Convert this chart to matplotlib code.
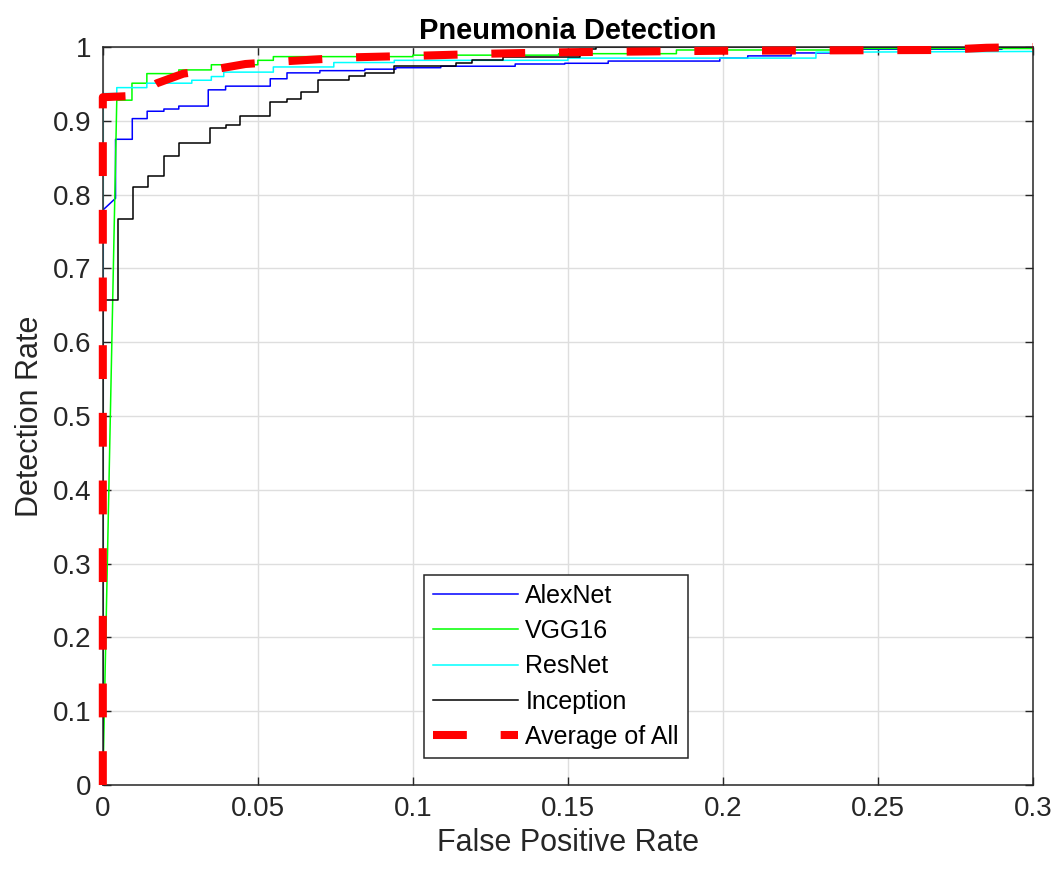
import numpy as np
import matplotlib.pyplot as plt

plt.rcParams['font.family'] = ['Liberation Sans', 'DejaVu Sans']

# ROC points (false positive rate, detection rate)
alex_fpr = [0, 0, 0.0041, 0.0041, 0.0095, 0.0095, 0.0143, 0.0143, 0.0197, 0.0197, 0.0245, 0.0245,
            0.034, 0.034, 0.0396, 0.0396, 0.054, 0.054, 0.0594, 0.0594, 0.07, 0.07, 0.0845, 0.0845,
            0.0945, 0.0945, 0.109, 0.109, 0.133, 0.133, 0.149, 0.149, 0.163, 0.163, 0.199, 0.199,
            0.208, 0.208, 0.222, 0.222, 0.243, 0.243, 0.29, 0.29, 0.3]
alex_tpr = [0, 0.779, 0.795, 0.875, 0.875, 0.903, 0.903, 0.913, 0.913, 0.916, 0.916, 0.920,
            0.920, 0.942, 0.942, 0.947, 0.947, 0.957, 0.957, 0.965, 0.965, 0.968, 0.968, 0.970,
            0.970, 0.972, 0.972, 0.974, 0.974, 0.977, 0.977, 0.978, 0.978, 0.981, 0.981, 0.985,
            0.985, 0.988, 0.988, 0.992, 0.992, 0.997, 0.997, 1.0, 1.0]

vgg_fpr = [0, 0.0045, 0.0094, 0.0094, 0.0142, 0.0142, 0.0245, 0.0245, 0.035, 0.035, 0.05, 0.05,
           0.055, 0.055, 0.1, 0.1, 0.147, 0.147, 0.185, 0.185, 0.24, 0.24, 0.3]
vgg_tpr = [0, 0.928, 0.928, 0.951, 0.951, 0.964, 0.964, 0.969, 0.969, 0.976, 0.976, 0.982,
           0.982, 0.987, 0.987, 0.989, 0.989, 0.991, 0.991, 0.996, 0.996, 0.998, 0.998]

res_fpr = [0, 0, 0.0045, 0.0045, 0.0142, 0.0142, 0.0287, 0.0287, 0.035, 0.035, 0.039, 0.039,
           0.055, 0.055, 0.0745, 0.0745, 0.094, 0.094, 0.15, 0.15, 0.23, 0.23, 0.3]
res_tpr = [0, 0.937, 0.937, 0.945, 0.945, 0.951, 0.951, 0.955, 0.955, 0.960, 0.960, 0.966,
           0.966, 0.973, 0.973, 0.979, 0.979, 0.982, 0.982, 0.985, 0.985, 0.993, 0.994]

inc_fpr = [0, 0, 0.0049, 0.0049, 0.0098, 0.0098, 0.0145, 0.0145, 0.0197, 0.0197, 0.0245, 0.0245,
           0.0347, 0.0347, 0.0396, 0.0396, 0.0444, 0.0444, 0.054, 0.054, 0.0594, 0.0594, 0.064, 0.064,
           0.0694, 0.0694, 0.0794, 0.0794, 0.0845, 0.0845, 0.094, 0.094, 0.114, 0.114, 0.119, 0.119,
           0.129, 0.129, 0.154, 0.154, 0.159, 0.159, 0.3]
inc_tpr = [0, 0.657, 0.657, 0.767, 0.767, 0.811, 0.811, 0.825, 0.825, 0.852, 0.852, 0.870,
           0.870, 0.890, 0.890, 0.894, 0.894, 0.906, 0.906, 0.926, 0.926, 0.929, 0.929, 0.939,
           0.939, 0.956, 0.956, 0.961, 0.961, 0.965, 0.965, 0.974, 0.974, 0.979, 0.979, 0.982,
           0.982, 0.986, 0.986, 0.997, 0.997, 1.0, 1.0]

avg_fpr = [0, 0, 0.011, 0.0175, 0.026, 0.035, 0.046, 0.06, 0.08, 0.1, 0.125, 0.15, 0.2, 0.27,
           0.285, 0.3]
avg_tpr = [0, 0.932, 0.934, 0.951, 0.964, 0.969, 0.977, 0.981, 0.986, 0.988, 0.991, 0.993,
           0.995, 0.996, 0.999, 1.0]

fig = plt.figure(figsize=(10.6, 8.71), dpi=100)
ax = fig.add_axes([0.097, 0.0987, 0.8775, 0.8473])

ax.plot(alex_fpr, alex_tpr, color=(0, 0, 1), lw=1.1, label='AlexNet')
ax.plot(vgg_fpr, vgg_tpr, color=(0, 1, 0), lw=1.1, label='VGG16')
ax.plot(res_fpr, res_tpr, color=(0, 1, 1), lw=1.1, label='ResNet')
ax.plot(inc_fpr, inc_tpr, color='black', lw=1.1, label='Inception')
ax.plot(avg_fpr, avg_tpr, color='red', lw=5.8, dashes=(4.2, 4.2), label='Average of All',
        clip_on=False, zorder=5)

ax.set_xlim(0, 0.3)
ax.set_ylim(0, 1)
ax.set_xticks(np.arange(0, 0.31, 0.05))
ax.set_xticklabels(['0', '0.05', '0.1', '0.15', '0.2', '0.25', '0.3'])
ax.set_yticks(np.arange(0, 1.01, 0.1))
ax.set_yticklabels(['0', '0.1', '0.2', '0.3', '0.4', '0.5', '0.6', '0.7', '0.8', '0.9', '1'])

ax.grid(True, color='#dedede', lw=1)
ax.set_axisbelow(True)
ax.tick_params(direction='in', length=6, width=1, colors='#262626', labelsize=20,
               top=True, right=True, pad=8)
for sp in ax.spines.values():
    sp.set_color('#262626')
    sp.set_linewidth(1.1)

ax.set_xlabel('False Positive Rate', fontsize=22, color='#262626', labelpad=4)
ax.set_ylabel('Detection Rate', fontsize=22, color='#262626', labelpad=6)
ax.set_title('Pneumonia Detection', fontsize=21, fontweight='bold', pad=6)

leg = ax.legend(loc='lower center', bbox_to_anchor=(0.487, 0.037), fontsize=18,
                handlelength=3.4, labelspacing=0.45, borderpad=0.35, handletextpad=0.3,
                fancybox=False, framealpha=1, edgecolor='#262626', borderaxespad=0)
leg.get_frame().set_linewidth(1.1)
leg.set_zorder(6)

fig.savefig('out.png', dpi=100)
